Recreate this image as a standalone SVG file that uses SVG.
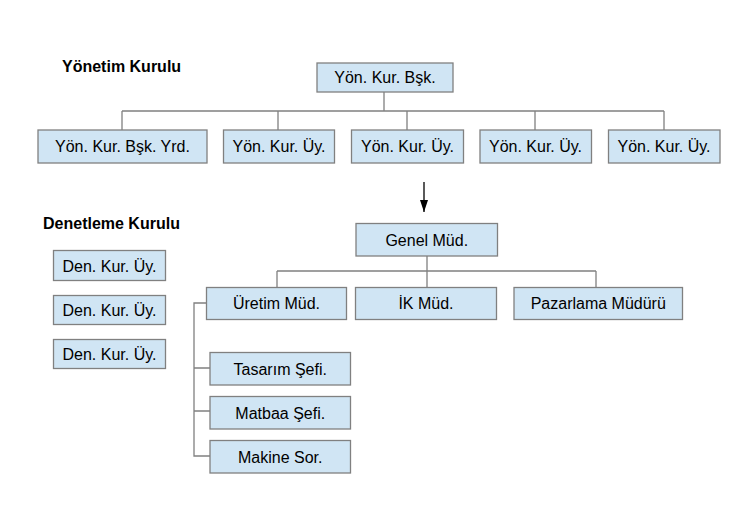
<svg xmlns="http://www.w3.org/2000/svg" width="750" height="525" viewBox="0 0 750 525">
<style>
.box{fill:#d0e5f4;stroke:#808080;stroke-width:1.3}
.t{font-family:"Liberation Sans",Arial,sans-serif;font-size:16px;fill:#000;text-anchor:middle}
.h{font-family:"Liberation Sans",Arial,sans-serif;font-size:16px;font-weight:bold;fill:#000}
.c{fill:none;stroke:#808080;stroke-width:1.3}
</style>
<defs>
<marker id="ar" markerWidth="12" markerHeight="8" refX="12" refY="4" orient="auto" markerUnits="userSpaceOnUse" viewBox="0 0 12 8">
<path d="M0,0 L12,4 L0,8 Z" fill="#000"/>
</marker>
</defs>
<rect width="750" height="525" fill="#fff"/>
<text class="h" x="62" y="72">Yönetim Kurulu</text>
<text class="h" x="43" y="229">Denetleme Kurulu</text>
<g id="connectors">
<path class="c" d="M384,92 V111 M122,111 H664 M122,111 V130 M278,111 V130 M407,111 V130 M535,111 V130 M664,111 V130"/>
<path class="c" d="M427,256 V271 M277,271 H596 M277,271 V287 M427,271 V287 M596,271 V287"/>
<path class="c" d="M206,303 H194 V456 H210 M194,368 H210 M194,411 H210"/>
<line x1="424" y1="182" x2="424" y2="212" stroke="#000" stroke-width="1.3" marker-end="url(#ar)"/>
</g>
<g id="n-bsk"><rect class="box" x="317" y="63" width="136" height="29"/><text class="t" x="385" y="83">Yön. Kur. Bşk.</text></g>
<g id="n-yrd"><rect class="box" x="38" y="130" width="169" height="33"/><text class="t" x="122.5" y="152">Yön. Kur. Bşk. Yrd.</text></g>
<g id="n-uy1"><rect class="box" x="223.5" y="130" width="111" height="33"/><text class="t" x="279" y="152">Yön. Kur. Üy.</text></g>
<g id="n-uy2"><rect class="box" x="351.5" y="130" width="112" height="33"/><text class="t" x="407.5" y="152">Yön. Kur. Üy.</text></g>
<g id="n-uy3"><rect class="box" x="480" y="130" width="111.5" height="33"/><text class="t" x="535.5" y="152">Yön. Kur. Üy.</text></g>
<g id="n-uy4"><rect class="box" x="608.5" y="130" width="111.5" height="33"/><text class="t" x="664" y="152">Yön. Kur. Üy.</text></g>
<g id="n-den1"><rect class="box" x="53.5" y="250.5" width="112" height="30"/><text class="t" x="109.5" y="271.5">Den. Kur. Üy.</text></g>
<g id="n-den2"><rect class="box" x="53.5" y="295.5" width="112" height="29"/><text class="t" x="109.5" y="316">Den. Kur. Üy.</text></g>
<g id="n-den3"><rect class="box" x="53.5" y="339.5" width="112" height="29"/><text class="t" x="109.5" y="360">Den. Kur. Üy.</text></g>
<g id="n-genel"><rect class="box" x="356" y="223.5" width="141.5" height="32.5"/><text class="t" x="426.75" y="245.5">Genel Müd.</text></g>
<g id="n-uretim"><rect class="box" x="206.5" y="287.5" width="140" height="32"/><text class="t" x="276.5" y="309">Üretim Müd.</text></g>
<g id="n-ik"><rect class="box" x="355.5" y="287.5" width="141" height="32"/><text class="t" x="426" y="309">İK Müd.</text></g>
<g id="n-paz"><rect class="box" x="514" y="287.5" width="168.5" height="32"/><text class="t" x="598.25" y="309">Pazarlama Müdürü</text></g>
<g id="n-tas"><rect class="box" x="210" y="352.5" width="140.5" height="32.5"/><text class="t" x="280.25" y="374.5">Tasarım Şefi.</text></g>
<g id="n-mat"><rect class="box" x="210" y="396.5" width="140.5" height="32.5"/><text class="t" x="280.25" y="418.5">Matbaa Şefi.</text></g>
<g id="n-mak"><rect class="box" x="210" y="440.5" width="140.5" height="32.5"/><text class="t" x="280.25" y="462.5">Makine Sor.</text></g>
</svg>
